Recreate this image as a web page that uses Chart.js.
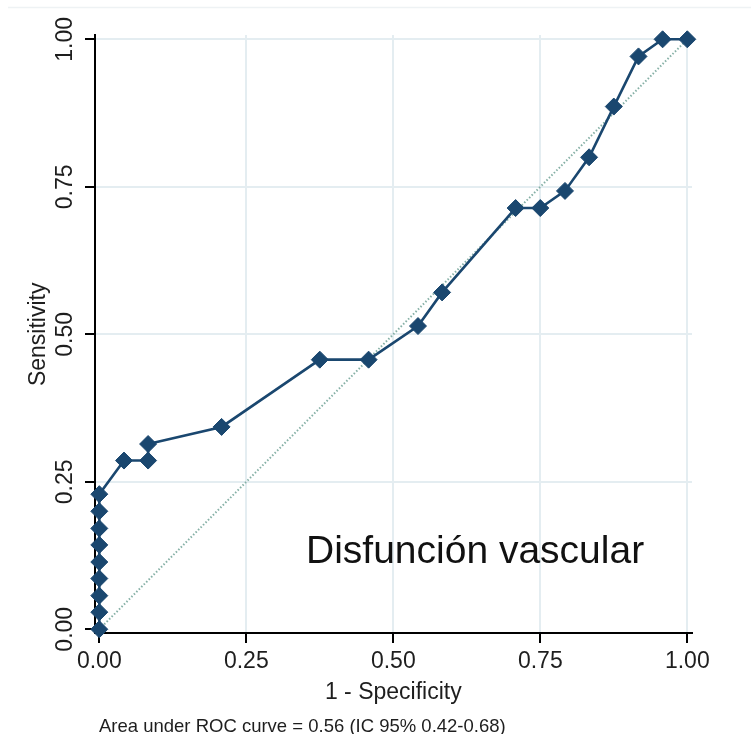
<!DOCTYPE html>
<html>
<head>
<meta charset="utf-8">
<script src="https://cdn.jsdelivr.net/npm/chart.js@4.4.1/dist/chart.umd.min.js"></script>
<style>
    html, body { margin: 0; padding: 0; background: #fff; }
    canvas { display: block; }
</style>
</head>
<body>
<canvas id="rocChart" width="751" height="734"></canvas>
<script>
// ROC curve points (1 - specificity, sensitivity)
const fpr = [0, 0, 0, 0, 0, 0, 0, 0, 0, 0.042, 0.083, 0.083, 0.208, 0.375, 0.458, 0.542, 0.583, 0.708, 0.75, 0.792, 0.833, 0.875, 0.917, 0.958, 1];
const tpr = [0, 0.029, 0.057, 0.086, 0.114, 0.143, 0.171, 0.2, 0.229, 0.286, 0.286, 0.314, 0.343, 0.457, 0.457, 0.514, 0.571, 0.714, 0.714, 0.743, 0.8, 0.886, 0.971, 1, 1];
const refLine = [0, 1];
const tickValues = [0, 0.25, 0.5, 0.75, 1];

const xTitle = '1 - Specificity';
const yTitle = 'Sensitivity';
const panelLabel = 'Disfunción vascular';
const aucNote = 'Area under ROC curve = 0.56 (IC 95% 0.42-0.68)';

const NAVY = '#1a476f';
const REF = '#86b0a6';
const GRID = '#e4edf1';
const TEXT = '#1e1e1e';
const FONT = '"Liberation Sans", Arial, Helvetica, sans-serif';

const rocPoints = fpr.map((v, i) => ({ x: v, y: tpr[i] }));
const refPoints = refLine.map(v => ({ x: v, y: v }));

const gridColor = (c) => (c.tick && c.tick.value === 0 ? 'rgba(0,0,0,0)' : GRID);

// rotated y tick labels, axis titles and notes
const rocLabels = {
    id: 'rocLabels',
    beforeDraw(chart) {
        const ctx = chart.ctx;
        ctx.save();
        ctx.strokeStyle = '#eef2f4';
        ctx.lineWidth = 1.5;
        ctx.beginPath();
        ctx.moveTo(8, 7.5);
        ctx.lineTo(751, 7.5);
        ctx.stroke();
        ctx.restore();
    },
    afterDraw(chart) {
        const { ctx, scales: { x, y } } = chart;
        ctx.save();
        ctx.fillStyle = TEXT;

        ctx.font = `23px ${FONT}`;
        ctx.textAlign = 'center';
        ctx.textBaseline = 'alphabetic';
        y.ticks.forEach(t => {
            ctx.save();
            ctx.translate(72, y.getPixelForValue(t.value));
            ctx.rotate(-Math.PI / 2);
            ctx.fillText(t.value.toFixed(2), 0, 0);
            ctx.restore();
        });

        ctx.save();
        ctx.translate(45, y.getPixelForValue(0.5));
        ctx.rotate(-Math.PI / 2);
        ctx.fillText(yTitle, 0, 0);
        ctx.restore();

        ctx.fillText(xTitle, x.getPixelForValue(0.5), 699);

        ctx.textAlign = 'left';
        ctx.font = `18.5px ${FONT}`;
        ctx.fillText(aucNote, 99, 732);

        ctx.fillStyle = '#111';
        ctx.font = `39px ${FONT}`;
        ctx.fillText(panelLabel, 306, 563);
        ctx.restore();
    }
};

new Chart(document.getElementById('rocChart'), {
    type: 'scatter',
    data: {
        datasets: [
            {
                label: 'ROC',
                data: rocPoints,
                showLine: true,
                borderColor: NAVY,
                backgroundColor: NAVY,
                borderWidth: 2.6,
                pointStyle: 'rectRot',
                pointRadius: 8.5,
                pointBorderWidth: 1,
                pointBorderColor: NAVY,
                pointBackgroundColor: NAVY,
                clip: false
            },
            {
                label: 'Reference',
                data: refPoints,
                showLine: true,
                borderColor: REF,
                borderWidth: 2,
                borderDash: [1.5, 2],
                pointRadius: 0
            }
        ]
    },
    options: {
        responsive: false,
        animation: false,
        layout: { padding: { top: 35, right: 59, left: 0, bottom: 0 } },
        plugins: { legend: { display: false }, tooltip: { enabled: false } },
        scales: {
            x: {
                type: 'linear',
                min: -0.0073,
                max: 1.008,
                afterBuildTicks: (s) => { s.ticks = tickValues.map(v => ({ value: v })); },
                afterFit: (s) => { s.height = 101; },
                grid: { color: gridColor, lineWidth: 2, tickColor: '#000', tickWidth: 2, tickLength: 10 },
                border: { color: '#000', width: 2 },
                ticks: {
                    color: TEXT,
                    padding: 5,
                    maxRotation: 0,
                    font: { family: FONT, size: 23 },
                    callback: (v) => Number(v).toFixed(2)
                }
            },
            y: {
                type: 'linear',
                min: -0.0063,
                max: 1.0073,
                afterBuildTicks: (s) => { s.ticks = tickValues.map(v => ({ value: v })); },
                afterFit: (s) => { s.width = 95; },
                grid: { color: gridColor, lineWidth: 2, tickColor: '#000', tickWidth: 2, tickLength: 10 },
                border: { color: '#000', width: 2 },
                ticks: { display: false }
            }
        }
    },
    plugins: [rocLabels]
});
</script>
</body>
</html>
